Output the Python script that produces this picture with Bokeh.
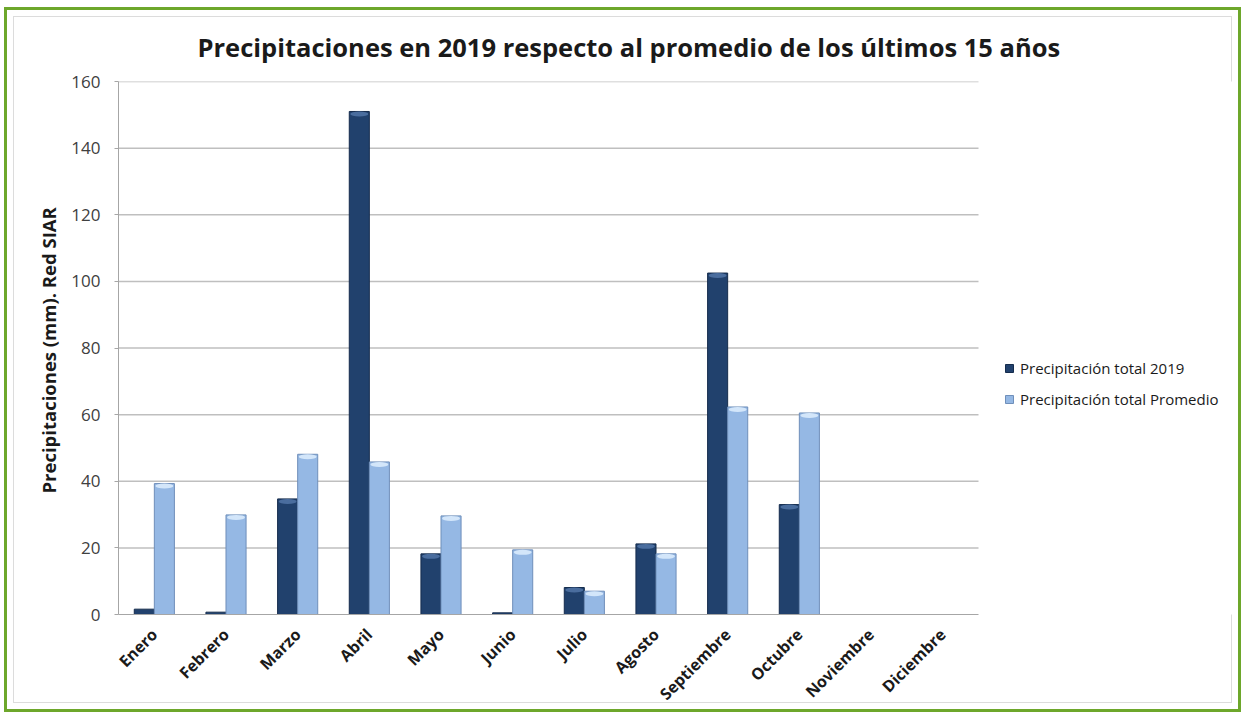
import numpy as np
from bokeh.plotting import figure
from bokeh.models import ColumnDataSource, Legend, LegendItem, Range1d, FixedTicker
from bokeh.transform import dodge
from bokeh.embed import file_html
from bokeh.resources import INLINE

months = ["Enero", "Febrero", "Marzo", "Abril", "Mayo", "Junio", "Julio",
          "Agosto", "Septiembre", "Octubre", "Noviembre", "Diciembre"]
total_2019 = [1.6, 0.7, 34.7, 151.0, 18.2, 0.5, 8.1, 21.2, 102.5, 33.0, np.nan, np.nan]
promedio = [39.3, 29.9, 48.1, 45.8, 29.6, 19.4, 7.0, 18.2, 62.3, 60.5, np.nan, np.nan]
y_ticks = [0, 20, 40, 60, 80, 100, 120, 140, 160]

title_text = "Precipitaciones en 2019 respecto al promedio de los  últimos 15 años"
y_label = "Precipitaciones (mm). Red  SIAR"
series_names = ["Precipitación total 2019", "Precipitación total Promedio"]

idx = np.arange(len(months))
a = np.array(total_2019, dtype=float)
b = np.array(promedio, dtype=float)

# layout (pixels)
W, H = 1237, 705
ML, MR, MT, MB = 111, 4, 70, 100
frame_w = W - ML - MR
frame_h = H - MT - MB
cat_px = 860 / len(months)          # width of one month slot in the chart area
x_end = -0.5 + frame_w / cat_px
px_per_unit = frame_h / (y_ticks[-1] - y_ticks[0])
cap_off = 2.5 / px_per_unit          # highlight cap sits just under each bar top

# highlight caps only where the bar is tall enough to show them
a_cap = np.where(a > 2, a - cap_off, np.nan)
b_cap = np.where(b > 2, b - cap_off, np.nan)

src = ColumnDataSource(dict(x=idx, a=a, b=b, a_cap=a_cap, b_cap=b_cap))

FONT = "Open Sans"
p = figure(x_range=Range1d(-0.5, x_end), y_range=Range1d(0, 160),
           width=W, height=H, output_backend="svg", toolbar_location=None,
           min_border_left=ML, min_border_right=MR, min_border_top=MT, min_border_bottom=MB,
           title=title_text)
p.styles = {"border": "3px solid #6DA72B", "margin-left": "4px", "margin-top": "7px",
            "background-color": "white",
            "box-shadow": "inset 0 0 0 6px white, inset 0 0 0 7px #dcdcdc"}
p.outline_line_color = None
p.background_fill_color = "white"
p.border_fill_alpha = 0

p.title.text_font = FONT
p.title.text_font_size = "25.5px"
p.title.text_font_style = "bold"
p.title.text_color = "#1a1a1a"
p.title.align = "left"
p.title.offset = 79
p.title.standoff = 35

# horizontal grid lines limited to the month area
gy = y_ticks[1:]
p.segment(x0=[-0.5] * len(gy), x1=[len(months) - 0.5] * len(gy), y0=gy, y1=gy,
          line_color="#bfbfbf", line_width=1.5, level="underlay")

r1 = p.vbar(x=dodge("x", -0.14), top="a", width=0.28, source=src,
            fill_color="#21416d", line_color="#152c4d", line_width=1)
r2 = p.vbar(x=dodge("x", 0.14), top="b", width=0.28, source=src,
            fill_color="#95b8e4", line_color="#6f8fba", line_width=1)
# soft rounded highlight at the top of each bar
p.ellipse(x=dodge("x", -0.14), y="a_cap", width=0.25, height=5, height_units="screen",
          source=src, fill_color="#4a6d9e", line_color=None)
p.ellipse(x=dodge("x", 0.14), y="b_cap", width=0.25, height=5, height_units="screen",
          source=src, fill_color="#d3e6fa", line_color=None)

p.xgrid.visible = False
p.ygrid.visible = False

p.yaxis.ticker = FixedTicker(ticks=y_ticks)
p.yaxis.axis_line_color = "#a6a6a6"
p.yaxis.major_tick_line_color = "#a6a6a6"
p.yaxis.major_tick_out = 4
p.yaxis.major_tick_in = 0
p.yaxis.minor_tick_line_color = None
p.yaxis.major_label_standoff = 14
p.yaxis.major_label_text_font = FONT
p.yaxis.major_label_text_font_size = "17px"
p.yaxis.major_label_text_color = "#404040"
p.yaxis.axis_label = y_label
p.yaxis.axis_label_text_font = FONT
p.yaxis.axis_label_text_font_size = "18.5px"
p.yaxis.axis_label_text_font_style = "bold"
p.yaxis.axis_label_text_color = "#1a1a1a"
p.yaxis.axis_label_standoff = 7

p.xaxis.ticker = FixedTicker(ticks=[int(i) for i in idx])
p.xaxis.major_label_overrides = {int(i): m for i, m in zip(idx, months)}
p.xaxis.bounds = (-0.5, len(months) - 0.5)
p.xaxis.axis_line_color = "#a6a6a6"
p.xaxis.major_tick_line_color = None
p.xaxis.minor_tick_line_color = None
p.xaxis.major_label_orientation = np.pi / 4
p.xaxis.major_label_text_font = FONT
p.xaxis.major_label_text_font_size = "16px"
p.xaxis.major_label_text_font_style = "bold"
p.xaxis.major_label_text_color = "#1a1a1a"
p.xaxis.major_label_standoff = 11

legend = Legend(items=[LegendItem(label=series_names[0], renderers=[r1]),
                       LegendItem(label=series_names[1], renderers=[r2])],
                location=(886, 205), orientation="vertical")
legend.glyph_width = 10
legend.glyph_height = 10
legend.label_height = 16
legend.spacing = 11
legend.padding = 0
legend.margin = 0
legend.label_standoff = 6
legend.label_text_font = FONT
legend.label_text_font_size = "15px"
legend.label_text_color = "#1a1a1a"
legend.background_fill_alpha = 0
legend.border_line_color = None
p.add_layout(legend, "center")

open("out.html", "w").write(file_html(p, INLINE))
